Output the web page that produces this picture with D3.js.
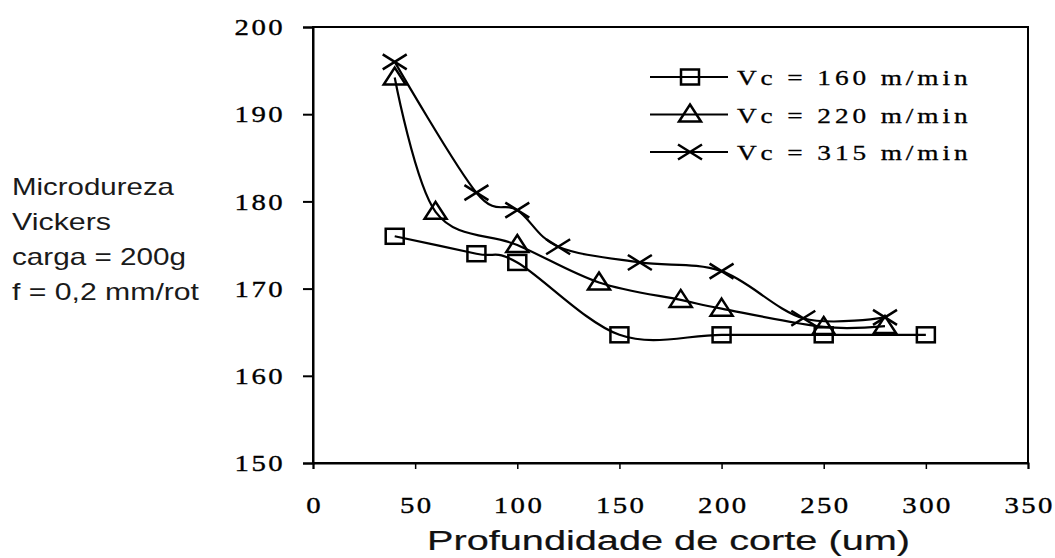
<!DOCTYPE html>
<html><head><meta charset="utf-8">
<script src="https://cdn.jsdelivr.net/npm/d3@7"></script>
<style>body{margin:0;background:#fff}svg{display:block}</style>
</head><body><svg id="c" width="1055" height="558"></svg>
<script>
const xTicks = [0,50,100,150,200,250,300,350];
const yTicks = [150,160,170,180,190,200];
const s160x = [40,80,100,150,200,250,300];
const s160y = [176,174,173,164.7,164.7,164.7,164.7];
const s220x = [40,60,100,140,180,200,250,280];
const s220y = [194.2,178.8,175,170.7,168.7,167.7,165.6,165.7];
const s315x = [40,80,100,120,160,200,240,280];
const s315y = [196,181,179,174.8,173,172,166.6,166.7];
const seriesNames = ["Vc = 160 m/min","Vc = 220 m/min","Vc = 315 m/min"];
const markers = ["square","triangle","cross"];
const yLabelLines = ["Microdureza","Vickers","carga = 200g","f = 0,2 mm/rot"];
const yLabelWidths = [162,99,174,187];

const svg = d3.select("#c");
const L=313,R=1028,T=27,B=463;
const x = d3.scaleLinear().domain([0,350]).range([L,R]);
const y = d3.scaleLinear().domain([150,200]).range([B,T]);

svg.append("rect").attr("x",L).attr("y",T).attr("width",R-L).attr("height",B-T)
  .attr("fill","none").attr("stroke","#000").attr("stroke-width",2);

const serif = "Liberation Serif";
const SX = 1.2;
const yAx = svg.append("g").attr("transform",`translate(${L},0)`)
  .call(d3.axisLeft(y).tickValues(yTicks).tickSize(10).tickPadding(30));
yAx.attr("font-family",null).attr("font-size",null);
yAx.select(".domain").attr("stroke-width",2);
yAx.selectAll("line").attr("stroke-width",2);
yAx.selectAll("text").attr("font-family",serif).attr("font-size",24)
  .attr("letter-spacing","2px").attr("stroke","#000").attr("stroke-width",0.35)
  .attr("x",-28/SX).attr("transform",`scale(${SX},1)`).attr("fill","#000");

const xAx = svg.append("g").attr("transform",`translate(0,${B})`)
  .call(d3.axisBottom(x).tickValues(xTicks).tickSize(6).tickPadding(0));
xAx.attr("font-family",null).attr("font-size",null);
xAx.select(".domain").attr("stroke-width",2);
xAx.selectAll("line").attr("stroke-width",1.5);
xAx.selectAll("text").attr("font-family",serif).attr("font-size",24)
  .attr("letter-spacing","2px").attr("stroke","#000").attr("stroke-width",0.35)
  .attr("dy",null).attr("y",50).attr("x",1)
  .attr("transform",`scale(${SX},1)`).attr("fill","#000");

// y label
svg.append("g").selectAll("text").data(yLabelLines).join("text")
  .attr("x",12).attr("y",(d,i)=>195+i*35)
  .attr("font-family","Liberation Sans").attr("font-size",24).attr("fill","#1a1a1a")
  .attr("textLength",(d,i)=>yLabelWidths[i]).attr("lengthAdjust","spacingAndGlyphs")
  .text(d=>d);

// x label
svg.append("text").attr("x",427).attr("y",550)
  .attr("font-family","Liberation Sans Narrow, Liberation Sans")
  .attr("font-size",27).attr("fill","#111").attr("stroke","#111").attr("stroke-width",0.2)
  .attr("textLength",483).attr("lengthAdjust","spacingAndGlyphs")
  .text("Profundidade de corte (um)");

const data = [
  s160x.map((v,i)=>[v,s160y[i]]),
  s220x.map((v,i)=>[v,s220y[i]]),
  s315x.map((v,i)=>[v,s315y[i]])
];
const line = d3.line().x(d=>x(d[0])).y(d=>y(d[1])).curve(d3.curveCatmullRom.alpha(0));

function marker(g, type){
  if(type==="square"){
    g.append("rect").attr("x",-9).attr("y",-7.5).attr("width",18).attr("height",15)
      .attr("fill","none").attr("stroke","#000").attr("stroke-width",2.5);
  } else if(type==="triangle"){
    g.append("path").attr("d","M0,-10L11,7L-11,7Z").attr("fill","none").attr("stroke","#000").attr("stroke-width",2.5);
  } else {
    g.append("path").attr("d","M-12,-7.5L12,7.5M-12,7.5L12,-7.5").attr("fill","none").attr("stroke","#000").attr("stroke-width",2.5);
  }
}

data.forEach((d,k)=>{
  svg.append("path").datum(d).attr("d",line).attr("fill","none").attr("stroke","#000").attr("stroke-width",2.2);
  d.forEach(p=>{
    const g = svg.append("g").attr("transform",`translate(${x(p[0])},${y(p[1])})`);
    marker(g, markers[k]);
  });
});

// legend
seriesNames.forEach((n,i)=>{
  const yy = 77 + i*37.5;
  svg.append("line").attr("x1",650).attr("x2",728).attr("y1",yy).attr("y2",yy).attr("stroke","#000").attr("stroke-width",2.2);
  const g = svg.append("g").attr("transform",`translate(690,${yy})`);
  marker(g, markers[i]);
  svg.append("text").attr("transform",`translate(737,${yy+8}) scale(1.3,1)`)
    .attr("font-family",serif).attr("font-size",21).attr("letter-spacing","3px")
    .attr("stroke","#000").attr("stroke-width",0.3)
    .attr("fill","#000").text(n);
});
</script></body></html>
